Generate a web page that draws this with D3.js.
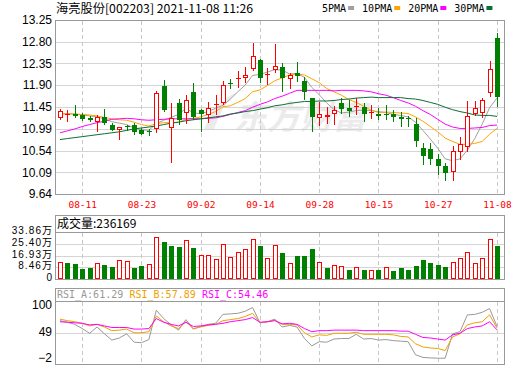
<!DOCTYPE html>
<html>
<head>
<meta charset="utf-8">
<script src="https://cdn.jsdelivr.net/npm/d3@7"></script>
<style>
body { margin: 0; background: #fff; }
svg { display: block; }
</style>
</head>
<body>
<div id="chart"></div>
<script>
// ---- data ----
var dates = ["08-06","08-09","08-10","08-11","08-12","08-13","08-16","08-17","08-18","08-19",
  "08-20","08-23","08-24","08-25","08-26","08-27","08-30","08-31","09-01","09-02",
  "09-03","09-06","09-07","09-08","09-09","09-10","09-13","09-14","09-15","09-16",
  "09-17","09-22","09-23","09-24","09-27","09-28","09-29","09-30","10-08","10-11",
  "10-12","10-13","10-14","10-15","10-18","10-19","10-20","10-21","10-22","10-25",
  "10-26","10-27","10-28","10-29","11-01","11-02","11-03","11-04","11-05","11-08"];

var opens = [11.21,11.30,11.29,11.28,11.22,11.13,11.24,11.07,10.97,11.05,
  11.08,10.96,10.94,10.98,11.88,11.00,11.53,11.33,11.76,11.38,
  11.28,11.49,11.52,11.95,12.02,12.05,12.23,12.42,12.12,12.21,
  12.27,12.02,12.16,11.98,11.64,11.21,11.24,11.30,11.53,11.42,
  11.44,11.44,11.32,11.30,11.30,11.30,11.23,11.21,11.09,10.60,
  10.57,10.37,10.23,10.09,10.52,10.62,11.29,11.33,11.74,12.87];
var highs = [11.40,11.38,11.49,11.32,11.26,11.28,11.40,11.12,11.04,11.08,
  11.12,11.01,10.99,11.78,12.01,11.53,11.62,11.69,11.95,11.40,
  11.55,11.69,11.98,12.02,12.19,12.28,12.77,12.45,12.25,12.75,
  12.35,12.16,12.38,12.07,11.64,11.55,11.45,11.47,11.64,11.59,
  11.64,11.52,11.49,11.42,11.49,11.38,11.35,11.26,11.21,10.69,
  10.69,10.48,10.28,10.64,10.83,11.57,11.57,11.64,12.40,12.97];
var lows = [11.18,11.13,11.21,11.16,11.14,10.93,11.07,10.94,10.75,10.95,
  10.87,10.86,10.84,10.91,11.35,10.28,11.07,11.09,11.18,10.93,
  11.11,11.28,11.49,11.81,11.83,11.94,12.19,11.94,11.90,12.16,
  11.76,11.81,11.97,11.59,10.93,11.06,11.10,11.07,11.31,11.24,
  11.27,11.14,11.20,11.17,11.17,11.14,11.04,11.04,10.62,10.24,
  10.24,10.03,9.91,9.91,10.35,10.52,11.26,11.22,11.66,11.44];
var closes = [11.36,11.31,11.26,11.20,11.18,11.24,11.12,10.97,11.02,11.03,
  10.93,10.89,10.92,11.73,11.38,11.22,11.18,11.60,11.24,11.31,
  11.43,11.51,11.90,11.92,12.04,12.11,12.51,12.04,12.14,12.30,
  12.05,12.11,12.09,11.75,11.24,11.30,11.27,11.38,11.40,11.36,
  11.46,11.31,11.34,11.26,11.29,11.24,11.20,11.19,10.73,10.43,
  10.37,10.23,10.07,10.53,10.67,11.26,11.42,11.59,12.23,11.66];
var prevClose = 11.30;

var volumes = [125000,118000,110000,74000,82000,115000,103000,89000,134000,132000,
  82000,96000,108000,303000,269000,240000,233000,281000,226000,173000,
  173000,144000,252000,158000,194000,216000,288000,240000,151000,245000,
  190000,115000,168000,168000,218000,122000,82000,101000,94000,67000,
  86000,67000,65000,67000,86000,60000,82000,67000,96000,139000,
  118000,103000,89000,125000,151000,194000,118000,151000,288000,236169];

var ma5 = [11.30,11.31,11.30,11.28,11.26,11.24,11.20,11.14,11.11,11.08,
  11.01,10.97,10.96,11.10,11.17,11.23,11.29,11.42,11.32,11.31,
  11.35,11.42,11.48,11.61,11.76,11.90,12.10,12.12,12.17,12.22,
  12.21,12.13,12.14,12.06,11.85,11.70,11.53,11.39,11.32,11.34,
  11.37,11.38,11.37,11.35,11.33,11.29,11.27,11.24,11.13,10.96,
  10.78,10.59,10.37,10.33,10.37,10.55,10.79,11.09,11.43,11.63];
var ma10 = [11.30,11.30,11.30,11.29,11.28,11.26,11.23,11.20,11.18,11.17,
  11.13,11.08,11.05,11.10,11.12,11.12,11.13,11.19,11.21,11.24,
  11.29,11.35,11.45,11.47,11.54,11.62,11.76,11.80,11.89,11.99,
  12.05,12.11,12.13,12.11,12.03,11.95,11.83,11.76,11.69,11.60,
  11.54,11.46,11.38,11.33,11.34,11.33,11.32,11.31,11.24,11.15,
  11.04,10.93,10.80,10.73,10.67,10.67,10.69,10.73,10.88,11.00];
var ma20 = [10.91,10.95,10.99,11.04,11.08,11.12,11.15,11.19,11.20,11.21,
  11.20,11.18,11.17,11.18,11.19,11.20,11.20,11.20,11.20,11.20,
  11.21,11.22,11.25,11.29,11.33,11.37,11.44,11.50,11.55,11.62,
  11.67,11.73,11.79,11.79,11.79,11.79,11.79,11.78,11.79,11.79,
  11.79,11.78,11.76,11.72,11.69,11.64,11.58,11.53,11.46,11.37,
  11.29,11.19,11.09,11.03,11.00,11.00,11.01,11.02,11.06,11.07];
var ma30 = [10.77,10.79,10.81,10.83,10.85,10.87,10.89,10.91,10.93,10.96,
  10.99,11.01,11.03,11.05,11.08,11.11,11.13,11.16,11.18,11.20,
  11.22,11.24,11.26,11.30,11.32,11.35,11.37,11.40,11.43,11.47,
  11.49,11.52,11.54,11.56,11.56,11.57,11.57,11.58,11.60,11.61,
  11.63,11.64,11.65,11.64,11.64,11.64,11.64,11.62,11.61,11.58,
  11.54,11.50,11.44,11.39,11.35,11.32,11.28,11.27,11.27,11.25];

var rsiA = [72,69,65,57,48,60,47,35,39,47,31,30,36,92,76,64,54,74,56,61,
  65,67,84,85,86,90,97,68,70,75,60,63,60,38,24,32,31,37,38,38,
  46,37,38,35,36,34,33,32,7,2,1,0.5,0.5,47,51,83,84,88,95,61.29];
var rsiB = [75,72,70,67,62,65,60,53,54,56,49,49,51,81,70,62,57,70,57,60,
  63,65,72,74,76,80,86,68,70,73,65,65,64,49,41,45,44,48,48,48,
  50,46,46,46,46,45,42,41,28,22,20,19,15,41,47,64,68,70,83,57.89];
var rsiC = [70,69,68,67,64,65,62,59,59,59,56,56,57,76,69,65,62,69,61,62,
  64,65,67,70,72,74,78,69,70,72,66,67,65,57,51,53,53,54,54,54,
  54,53,53,53,53,53,52,52,46,40,39,37,35,45,48,57,60,62,70,54.46];

var dateTicks = ["08-11","08-23","09-02","09-14","09-28","10-15","10-27","11-08"];
var priceTicks = [13.25,12.80,12.35,11.90,11.45,10.99,10.54,10.09,9.64];
var volTicks = [0,84600,169300,254000,338600];
var volTickLabels = ["0","8.46万","16.93万","25.40万","33.86万"];
var rsiTicks = [100,49,-2];

var maSeries = [
  {name: "5PMA", values: ma5, color: "#a0a0a0"},
  {name: "10PMA", values: ma10, color: "#ffa500"},
  {name: "20PMA", values: ma20, color: "#ff00ff"},
  {name: "30PMA", values: ma30, color: "#0b6e35"}
];
var rsiSeries = [
  {name: "RSI_A", values: rsiA, color: "#999999"},
  {name: "RSI_B", values: rsiB, color: "#f0a000"},
  {name: "RSI_C", values: rsiC, color: "#ff00ff"}
];

// ---- layout ----
var svgWidth = 520, svgHeight = 365;
var left = 55, right = 505;
var mainTop = 20, mainBot = 194;
var volTop = 215, volHead = 232, volBot = 279;
var rsiTop = 288, rsiHead = 301, rsiBot = 364;
var RED = "#ff0000", GREEN = "#008000";
var MONO = "'DejaVu Sans Mono', monospace";
var CJK = "'Noto Sans CJK SC', sans-serif";
var SANS = "'Liberation Sans', Arial, sans-serif";

var svg = d3.select("#chart").append("svg")
  .attr("width", svgWidth)
  .attr("height", svgHeight)
  .style("font-family", SANS);

var crisp = function(v) { return Math.round(v) + 0.5; };

var x = d3.scalePoint().domain(dates).range([60, 497]);
var yPrice = d3.scaleLinear().domain([9.64, 13.25]).range([mainBot, mainTop]);
var yVol = d3.scaleLinear().domain([0, 338600]).range([volBot, volHead]);
var yRsi = d3.scaleLinear().domain([-2, 100]).range([359.5, 306]);

// watermark
svg.append("text")
  .attr("x", 234).attr("y", 129)
  .attr("font-family", CJK)
  .attr("font-size", 33).attr("font-weight", "bold").attr("font-style", "italic")
  .attr("fill", "#ebebeb")
  .text("东方财富");
svg.append("path")
  .attr("d", "M204,130 Q214,100 238,92 Q222,104 214,130 Z")
  .attr("fill", "#ebebeb");

// ---- panel frames and grids ----
function frame(y0, y1) {
  svg.append("rect")
    .attr("x", left + 0.5).attr("y", y0 + 0.5)
    .attr("width", right - left - 1).attr("height", y1 - y0)
    .attr("fill", "none").attr("stroke", "#999");
}
function hgrid(values, scale) {
  svg.append("g").selectAll("line").data(values).enter().append("line")
    .attr("x1", left + 1).attr("x2", right - 1)
    .attr("y1", d => crisp(scale(d))).attr("y2", d => crisp(scale(d)))
    .attr("stroke", "#d4d4d4");
}
function vgrid(y0, y1) {
  svg.append("g").selectAll("line").data(dateTicks).enter().append("line")
    .attr("x1", d => crisp(x(d))).attr("x2", d => crisp(x(d)))
    .attr("y1", y0 + 1).attr("y2", y1)
    .attr("stroke", "#c8c8c8").attr("stroke-dasharray", "4,3");
}

hgrid(priceTicks.slice(1, -1), yPrice);
vgrid(mainTop, mainBot);
hgrid(volTicks.slice(1, -1), yVol);
vgrid(volHead, volBot);
hgrid([49], yRsi);
vgrid(rsiHead, rsiBot);

// ---- price axis ----
var leftAxis = d3.axisLeft(yPrice).tickValues(priceTicks)
  .tickFormat(d3.format(".2f")).tickSize(0).tickPadding(3);
svg.append("g").attr("transform", `translate(${left}, 0)`)
  .call(leftAxis)
  .call(g => g.select(".domain").remove())
  .selectAll("text").attr("font-size", 12).attr("font-family", SANS).attr("fill", "#000");

// ---- date axis ----
var bottomAxis = d3.axisBottom(x).tickValues(dateTicks).tickSize(0).tickPadding(7);
svg.append("g").attr("transform", `translate(0, ${mainBot})`)
  .call(bottomAxis)
  .call(g => g.select(".domain").remove())
  .selectAll("text").attr("font-size", 9.5).attr("font-family", MONO).attr("fill", RED);

// ---- MA lines ----
maSeries.forEach(function(s) {
  var line = d3.line().x((d, i) => x(dates[i])).y(d => yPrice(d));
  svg.append("path").datum(s.values)
    .attr("d", line).attr("fill", "none")
    .attr("stroke", s.color).attr("stroke-width", 1);
});

// ---- candles ----
var candle = svg.append("g").selectAll("g").data(dates).enter().append("g");
candle.append("line")
  .attr("x1", d => crisp(x(d))).attr("x2", d => crisp(x(d)))
  .attr("y1", (d, i) => Math.round(yPrice(highs[i])))
  .attr("y2", (d, i) => Math.round(yPrice(lows[i])))
  .attr("stroke", (d, i) => closes[i] >= opens[i] ? RED : GREEN);
candle.append("rect")
  .each(function(d, i) {
    var up = closes[i] >= opens[i];
    var cx = Math.round(x(d));
    var top = Math.round(yPrice(Math.max(opens[i], closes[i])));
    var bot = Math.round(yPrice(Math.min(opens[i], closes[i])));
    var h = Math.max(1, bot - top);
    if (up) {
      d3.select(this).attr("x", cx - 1.5).attr("y", top + 0.5)
        .attr("width", 4).attr("height", h - 1 > 0 ? h - 1 : 0.01)
        .attr("fill", "#fff").attr("stroke", RED);
    } else {
      d3.select(this).attr("x", cx - 2).attr("y", top)
        .attr("width", 5).attr("height", h)
        .attr("fill", GREEN);
    }
  });

// ---- volume ----
svg.append("g").selectAll("rect").data(dates).enter().append("rect")
  .each(function(d, i) {
    var up = closes[i] >= (i === 0 ? prevClose : closes[i - 1]);
    var cx = Math.round(x(d));
    var top = Math.round(yVol(volumes[i]));
    if (up) {
      d3.select(this).attr("x", cx - 1.5).attr("y", top + 0.5)
        .attr("width", 4).attr("height", volBot - top - 1)
        .attr("fill", "#fff").attr("stroke", RED);
    } else {
      d3.select(this).attr("x", cx - 2).attr("y", top)
        .attr("width", 5).attr("height", volBot - top)
        .attr("fill", GREEN);
    }
  });

// volume labels sit tight, like the reference; small size keeps them apart
var volAxis = d3.axisLeft(yVol).tickValues(volTicks)
  .tickFormat((d, i) => volTickLabels[i]).tickSize(0).tickPadding(3);
svg.append("g").attr("transform", `translate(${left}, -1.5)`)
  .call(volAxis)
  .call(g => g.select(".domain").remove())
  .selectAll("text").attr("font-size", 10).attr("font-family", SANS + ", " + CJK)
  .attr("fill", "#000").attr("textLength", function() { return this.getComputedTextLength() * 1.15; });

// ---- RSI ----
rsiSeries.forEach(function(s) {
  var line = d3.line().x((d, i) => x(dates[i])).y(d => yRsi(d));
  svg.append("path").datum(s.values)
    .attr("d", line).attr("fill", "none")
    .attr("stroke", s.color).attr("stroke-width", 1);
});
var rsiAxis = d3.axisLeft(yRsi).tickValues(rsiTicks).tickSize(0).tickPadding(3);
svg.append("g").attr("transform", `translate(${left}, -1.5)`)
  .call(rsiAxis)
  .call(g => g.select(".domain").remove())
  .selectAll("text").attr("font-size", 12).attr("font-family", SANS).attr("fill", "#000");

// ---- frames ----
frame(mainTop, mainBot);
frame(volTop, volBot);
frame(rsiTop, rsiBot);
svg.append("line").attr("x1", left).attr("x2", right)
  .attr("y1", volHead + 0.5).attr("y2", volHead + 0.5).attr("stroke", "#999");
svg.append("line").attr("x1", left).attr("x2", right)
  .attr("y1", rsiHead + 0.5).attr("y2", rsiHead + 0.5).attr("stroke", "#999");

// ---- header texts ----
svg.append("text")
  .attr("x", 56).attr("y", 13)
  .attr("font-family", CJK).attr("font-size", 12).attr("fill", "#000")
  .attr("textLength", 197).attr("lengthAdjust", "spacingAndGlyphs")
  .text("海亮股份[002203] 2021-11-08 11:26");

var lx = 322;
maSeries.forEach(function(s) {
  var t = svg.append("text")
    .attr("x", lx).attr("y", 12)
    .attr("font-family", MONO).attr("font-size", 10).attr("fill", "#000")
    .text(s.name);
  var w = t.node().getComputedTextLength();
  svg.append("rect")
    .attr("x", lx + w + 2).attr("y", 6)
    .attr("width", 6).attr("height", 4)
    .attr("fill", s.color);
  lx += w + 16;
});

svg.append("text")
  .attr("x", 57).attr("y", 228)
  .attr("font-family", CJK).attr("font-size", 12).attr("fill", "#000")
  .text("成交量:" + volumes[volumes.length - 1]);

var rx = 57;
rsiSeries.forEach(function(s) {
  var v = s.values[s.values.length - 1];
  svg.append("text")
    .attr("x", rx).attr("y", 298)
    .attr("font-family", MONO).attr("font-size", 10).attr("fill", s.color)
    .text(s.name + ":" + v.toFixed(2));
  rx += 72.5;
});
</script>
</body>
</html>
